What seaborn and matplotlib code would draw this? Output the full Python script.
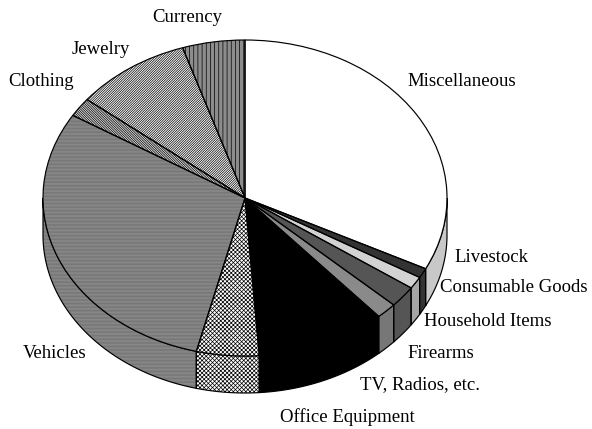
import numpy as np
import matplotlib
matplotlib.use("Agg")
import matplotlib.pyplot as plt
import seaborn as sns

categories = ["Miscellaneous", "Livestock", "Consumable Goods", "Household Items", "Firearms",
              "TV, Radios, etc.", "Office Equipment", "Vehicles", "Clothing", "Jewelry", "Currency"]
shares = [32.4, 1.0, 1.25, 2.2, 1.65, 10.4, 5.0, 29.9, 1.95, 9.3, 5.0]

top_colors = ["#ffffff", "#333333", "#d2d2d2", "#555555", "#8a8a8a", "#000000",
              "#ffffff", "#929292", "#d8d8d8", "#ffffff", "#8c8c8c"]
rim_colors = ["#c8c8c8", "#333333", "#a6a6a6", "#555555", "#777777", "#000000",
              "#ffffff", "#929292", "#d8d8d8", "#ffffff", "#8c8c8c"]
hatches = [None, None, None, None, None, None, "x" * 8, "-" * 12, "\\" * 14, "/" * 14, "||||"]
hatch_colors = ["black"] * 7 + ["#6e6e6e", "black", "black", "black"]

label_pos = {"Miscellaneous": (407, 82), "Livestock": (454, 258), "Consumable Goods": (440, 288),
             "Household Items": (424, 321), "Firearms": (407, 353), "TV, Radios, etc.": (360, 385),
             "Office Equipment": (280, 417), "Vehicles": (23, 353), "Clothing": (8, 81),
             "Jewelry": (72, 50), "Currency": (152, 17)}

W, H = 592, 429
CX, CY, RX, RY, DEPTH = 245, 198, 202, 158, 37

sns.set_theme(style="white")
plt.rcParams["font.family"] = ["Liberation Serif", "DejaVu Serif"]
plt.rcParams["hatch.linewidth"] = 0.5

fig = plt.figure(figsize=(W / 100, H / 100), dpi=100, facecolor="white")
ax = fig.add_axes([0, 0, 1, 1])

# front rim of the disc, built from the same shares as the top face
d = DEPTH / RY
values = np.asarray(shares, float)
edges = 90 - np.concatenate([[0], np.cumsum(values)]) / values.sum() * 360
for i in range(len(values)):
    lo, hi = max(edges[i + 1], -180), min(edges[i], 0)
    if hi <= lo:
        continue
    t = np.radians(np.linspace(hi, lo, 80))
    xs = np.concatenate([np.cos(t), np.cos(t[::-1])])
    ys = np.concatenate([np.sin(t), np.sin(t[::-1]) - d])
    ax.fill(xs, ys, facecolor=rim_colors[i], edgecolor=hatch_colors[i], linewidth=0,
            hatch=hatches[i], zorder=1)
    ax.fill(xs, ys, facecolor="none", edgecolor="black", linewidth=0.85, zorder=1.5)

# filled and hatched top faces, then crisp black outlines on top
wedges, _ = ax.pie(values, startangle=90, counterclock=False, radius=1, colors=top_colors,
                   hatch=hatches, wedgeprops=dict(linewidth=0, zorder=2))
for wedge, colour in zip(wedges, hatch_colors):
    wedge.set_edgecolor(colour)
ax.pie(values, startangle=90, counterclock=False, radius=1, colors=["none"] * len(values),
       wedgeprops=dict(edgecolor="black", linewidth=0.85, zorder=3))
ax.set_aspect("auto")
ax.set_xlim(-CX / RX, (W - CX) / RX)
ax.set_ylim((CY - H) / RY, CY / RY)
ax.axis("off")

for name in categories:
    x, y = label_pos[name]
    fig.text(x / W, 1 - y / H, name, ha="left", va="center", fontsize=13.5, color="black")

fig.savefig("out.png", dpi=100, facecolor="white")
